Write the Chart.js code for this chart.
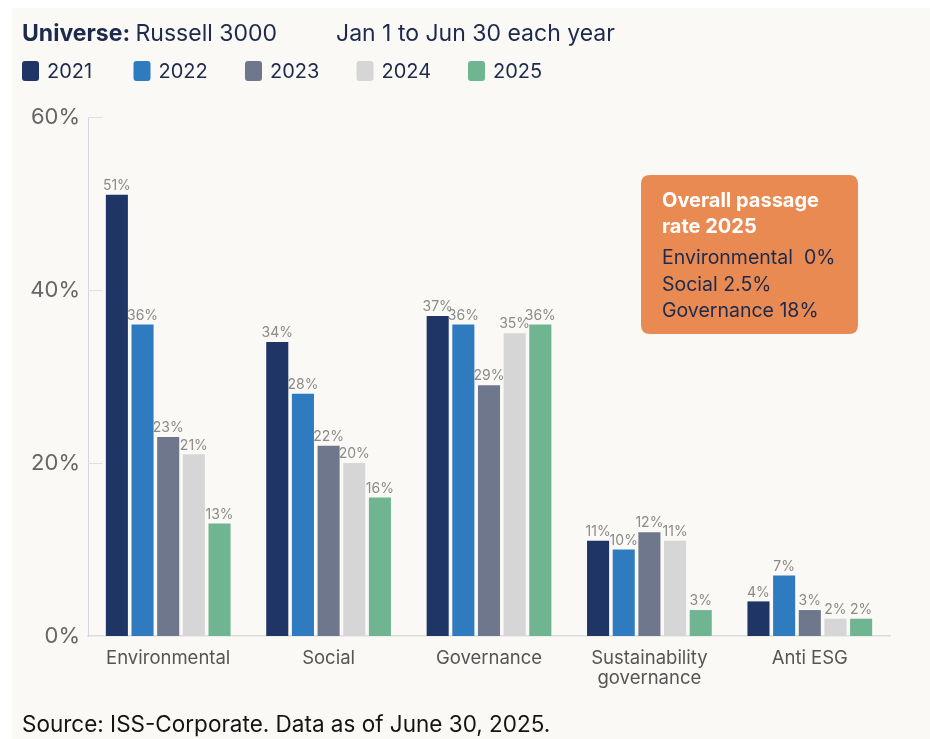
<!DOCTYPE html>
<html>
<head>
<meta charset="utf-8">
<script src="https://cdn.jsdelivr.net/npm/chart.js@4.4.1/dist/chart.umd.min.js"></script>
<style>
  html, body { margin: 0; padding: 0; background: #ffffff; }
  #wrap { position: absolute; left: 0; top: 0; width: 930px; height: 739px; }
</style>
</head>
<body>
<div id="wrap"><canvas id="esgChart" width="930" height="739"></canvas></div>
<script>
// Categorias y valores (% de aprobacion por año)
var categories = ['Environmental', 'Social', 'Governance', ['Sustainability', 'governance'], 'Anti ESG'];
var years = ['2021', '2022', '2023', '2024', '2025'];
var values2021 = [51, 34, 37, 11, 4];
var values2022 = [36, 28, 36, 10, 7];
var values2023 = [23, 22, 29, 12, 3];
var values2024 = [21, 20, 35, 11, 2];
var values2025 = [13, 16, 36, 3, 2];
var yTicks = [0, 20, 40, 60];

var colors = ['#1F3566', '#2E7BC0', '#6E778C', '#D6D6D6', '#6FB592'];
var FONT = 'Inter, "Liberation Sans", sans-serif';
var NAVY = '#1D2A4D';

var passageTitle = ['Overall passage', 'rate 2025'];
var passageLines = ['Environmental  0%', 'Social 2.5%', 'Governance 18%'];

var allValues = [values2021, values2022, values2023, values2024, values2025];
var datasets = years.map(function (y, i) {
    return {
        label: y,
        data: allValues[i],
        backgroundColor: colors[i],
        categoryPercentage: 0.8,
        barPercentage: 0.86
    };
});

function roundRect(ctx, x, y, w, h, r) {
    ctx.beginPath();
    ctx.moveTo(x + r, y);
    ctx.lineTo(x + w - r, y);
    ctx.quadraticCurveTo(x + w, y, x + w, y + r);
    ctx.lineTo(x + w, y + h - r);
    ctx.quadraticCurveTo(x + w, y + h, x + w - r, y + h);
    ctx.lineTo(x + r, y + h);
    ctx.quadraticCurveTo(x, y + h, x, y + h - r);
    ctx.lineTo(x, y + r);
    ctx.quadraticCurveTo(x, y, x + r, y);
    ctx.closePath();
}

// fondo crema, cabecera, leyenda, notas y fuente
var decorPlugin = {
    id: 'decor',
    beforeDraw: function (chart) {
        var ctx = chart.ctx;
        ctx.save();
        ctx.fillStyle = '#ffffff';
        ctx.fillRect(0, 0, chart.width, chart.height);
        ctx.fillStyle = '#FAF9F5';
        ctx.fillRect(12, 8, chart.width - 12, chart.height - 8);
        ctx.restore();
    },
    afterDraw: function (chart) {
        var ctx = chart.ctx;
        var area = chart.chartArea;
        var yScale = chart.scales.y;
        ctx.save();

        // marcas cortas del eje y hacia dentro
        ctx.strokeStyle = '#DEDFE3';
        ctx.lineWidth = 1;
        yTicks.forEach(function (v) {
            if (v === 0) return;
            var py = Math.round(yScale.getPixelForValue(v)) + 0.5;
            ctx.beginPath();
            ctx.moveTo(area.left, py);
            ctx.lineTo(area.left + 15, py);
            ctx.stroke();
        });

        // cabecera
        ctx.textBaseline = 'alphabetic';
        ctx.textAlign = 'left';
        ctx.fillStyle = NAVY;
        ctx.font = 'bold 23px ' + FONT;
        ctx.fillText('Universe:', 22, 41);
        var w = ctx.measureText('Universe: ').width;
        ctx.font = '23px ' + FONT;
        ctx.fillText('Russell 3000', 22 + w, 41);
        ctx.fillText('Jan 1 to Jun 30 each year', 336, 41);

        // leyenda
        ctx.font = '20px ' + FONT;
        chart.data.datasets.forEach(function (ds, i) {
            var x = 22 + i * 111.5;
            ctx.fillStyle = ds.backgroundColor;
            roundRect(ctx, x, 61, 17, 20, 3);
            ctx.fill();
            ctx.fillStyle = NAVY;
            ctx.fillText(ds.label, x + 25, 78);
        });

        // recuadro de aprobacion total
        ctx.fillStyle = '#E88A52';
        roundRect(ctx, 641, 175, 217, 159, 9);
        ctx.fill();
        ctx.fillStyle = '#ffffff';
        ctx.font = 'bold 20px ' + FONT;
        passageTitle.forEach(function (t, i) {
            ctx.fillText(t, 662, 207 + i * 26);
        });
        ctx.fillStyle = NAVY;
        ctx.font = '19.5px ' + FONT;
        passageLines.forEach(function (t, i) {
            ctx.fillText(t, 662, 264 + i * 26.5);
        });

        // fuente
        ctx.fillStyle = '#141414';
        ctx.font = '22.5px ' + FONT;
        ctx.fillText('Source: ISS-Corporate. Data as of June 30, 2025.', 22, 732);

        ctx.restore();
    }
};

// etiquetas de valor sobre cada barra
var valueLabels = {
    id: 'valueLabels',
    afterDatasetsDraw: function (chart) {
        var ctx = chart.ctx;
        ctx.save();
        ctx.font = '14px ' + FONT;
        ctx.fillStyle = '#8A8A8A';
        ctx.textAlign = 'center';
        ctx.textBaseline = 'bottom';
        chart.data.datasets.forEach(function (ds, i) {
            var meta = chart.getDatasetMeta(i);
            meta.data.forEach(function (bar, j) {
                ctx.fillText(ds.data[j] + '%', bar.x, bar.y - 2);
            });
        });
        ctx.restore();
    }
};

var ctx = document.getElementById('esgChart');
new Chart(ctx, {
    type: 'bar',
    data: { labels: categories, datasets: datasets },
    plugins: [decorPlugin, valueLabels],
    options: {
        responsive: false,
        animation: false,
        layout: { padding: { top: 117, right: 40, bottom: 0, left: 0 } },
        plugins: {
            legend: { display: false },
            tooltip: { enabled: false }
        },
        scales: {
            x: {
                grid: { display: false, drawTicks: false },
                border: { color: '#DCDDE0', width: 1.5 },
                ticks: {
                    color: '#555555',
                    font: { family: FONT, size: 18.5, lineHeight: 1.1 },
                    padding: 12,
                    maxRotation: 0
                },
                afterFit: function (s) { s.height = 103; }
            },
            y: {
                min: 0,
                max: 60,
                afterBuildTicks: function (s) {
                    s.ticks = yTicks.map(function (v) { return { value: v }; });
                },
                grid: { display: false, drawTicks: false },
                border: { color: '#D3D6E0', width: 1 },
                ticks: {
                    color: '#666666',
                    font: { family: FONT, size: 22 },
                    padding: 8,
                    callback: function (v) { return v + '%'; }
                },
                afterFit: function (s) { s.width = 88; }
            }
        }
    }
});
</script>
</body>
</html>
